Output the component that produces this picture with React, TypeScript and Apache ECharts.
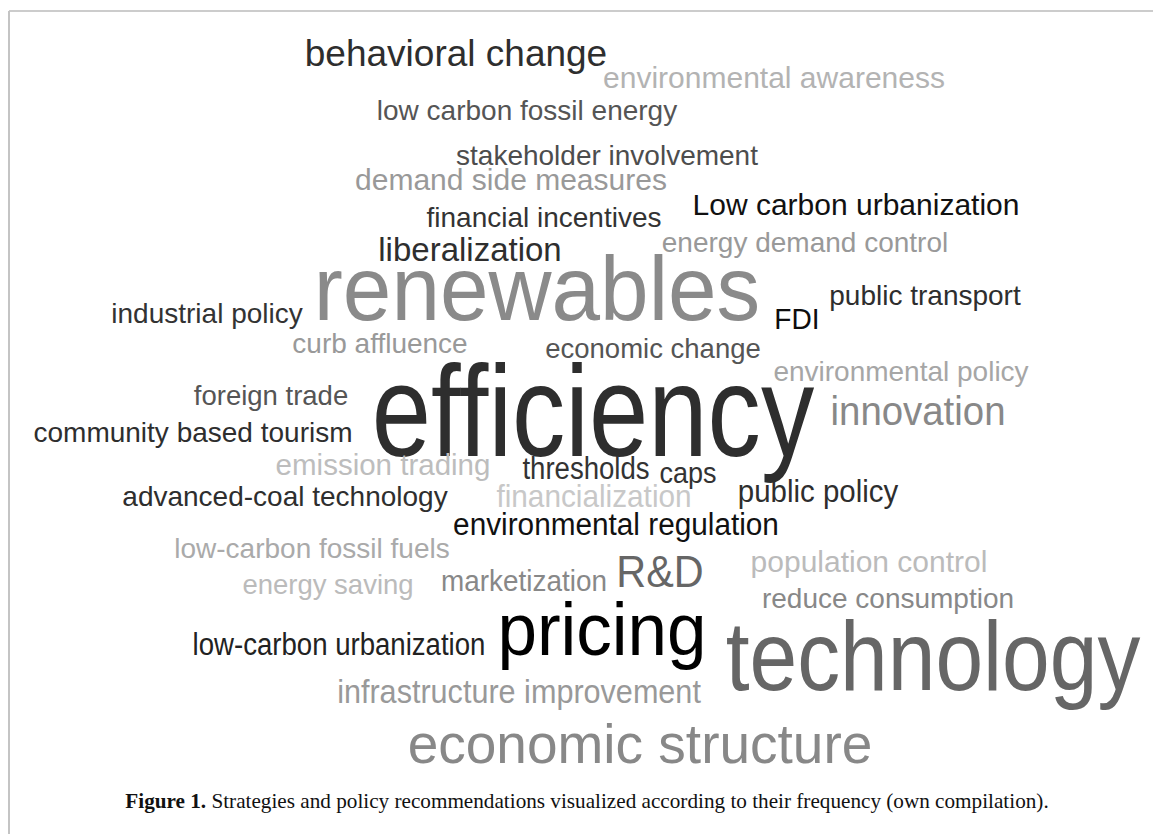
import React, { useEffect, useRef } from "react";
import * as echarts from "echarts";

// Words of the cloud
const words: string[] = [
  "behavioral change", "environmental awareness", "low carbon fossil energy", "stakeholder involvement",
  "demand side measures", "financial incentives", "Low carbon urbanization", "liberalization",
  "energy demand control", "renewables", "industrial policy", "FDI", "public transport",
  "curb affluence", "economic change", "environmental policy", "efficiency", "foreign trade",
  "innovation", "community based tourism", "emission trading", "thresholds", "caps",
  "advanced-coal technology", "financialization", "public policy", "environmental regulation",
  "low-carbon fossil fuels", "population control", "R&D", "marketization", "energy saving",
  "reduce consumption", "pricing", "low-carbon urbanization", "technology",
  "infrastructure improvement", "economic structure",
];

// Relative frequency (rendered as font size)
const frequency: number[] = [
  37, 30, 28, 28,
  30, 28, 30, 33,
  28, 90, 28, 29, 28,
  28, 27.5, 28, 130, 27.5,
  40, 28, 29.5, 31, 30,
  28, 32, 31, 31,
  28, 30, 44, 30, 27.5,
  28, 74, 31, 98,
  34, 55,
];

// Layout of the cloud (word centre x, baseline y)
const posX: number[] = [
  456, 774, 527, 607,
  511, 544, 856, 470,
  805, 537, 207, 797, 925,
  380, 653, 901, 593, 271,
  918, 193, 383, 586, 688,
  285, 594, 818, 616,
  312, 869, 660, 524, 328,
  888, 602, 339, 933,
  519, 640,
];
const posY: number[] = [
  66, 88, 120, 165,
  190, 227, 215, 261,
  252, 320, 323, 329, 305,
  353, 358, 381, 456, 405,
  425, 442, 475, 479, 483,
  506, 507, 502, 535,
  558, 572, 587, 591, 594,
  608, 655, 655, 690,
  703, 763,
];

// Horizontal stretch of each word as rendered
const stretch: number[] = [
  1, 1, 1, 1,
  1, 1, 1, 1,
  1, 0.97, 1, 0.97, 1,
  1, 1, 1, 0.82, 1,
  0.96, 1, 1, 0.89, 0.9,
  1, 0.93, 0.95, 0.96,
  1, 1, 0.94, 0.93, 1,
  1, 0.96, 0.89, 0.875,
  0.9, 1,
];

const colors: string[] = [
  "#2e2e2e", "#b3b3b3", "#555555", "#4d4d4d",
  "#999999", "#333333", "#111111", "#2e2e2e",
  "#999999", "#8a8a8a", "#333333", "#0d0d0d", "#2e2e2e",
  "#999999", "#555555", "#a6a6a6", "#2e2e2e", "#555555",
  "#888888", "#2e2e2e", "#bdbdbd", "#333333", "#333333",
  "#2e2e2e", "#c8c8c8", "#2e2e2e", "#111111",
  "#aaaaaa", "#bbbbbb", "#666666", "#888888", "#bbbbbb",
  "#888888", "#000000", "#222222", "#666666",
  "#999999", "#888888",
];

const captionBold = "Figure 1.";
const captionText =
  " Strategies and policy recommendations visualized according to their frequency (own compilation).";

const W = 1153;
const H = 834;

export default function App() {
  const ref = useRef<HTMLDivElement>(null);

  useEffect(() => {
    if (!ref.current) return;
    const chart = echarts.init(ref.current, undefined, { renderer: "svg" });
    const data = words.map((w, i) => ({ name: w, value: [posX[i], posY[i], frequency[i]] }));

    chart.setOption({
      animation: false,
      backgroundColor: "#ffffff",
      grid: { left: 0, right: 0, top: 0, bottom: 0 },
      xAxis: { type: "value", min: 0, max: W, show: false },
      yAxis: { type: "value", min: 0, max: H, inverse: true, show: false },
      graphic: [
        {
          type: "line",
          shape: { x1: 9, y1: 11, x2: W, y2: 11 },
          style: { stroke: "#9a9a9a", lineWidth: 1.2 },
          silent: true,
        },
        {
          type: "line",
          shape: { x1: 9, y1: 11, x2: 9, y2: H },
          style: { stroke: "#c4c4c4", lineWidth: 2 },
          silent: true,
        },
        {
          type: "text",
          x: 587,
          y: 801,
          style: {
            text: "{b|" + captionBold + "}" + captionText,
            rich: {
              b: { fontWeight: "bold", fontFamily: "Liberation Serif", fontSize: 21.2, fill: "#111" },
            },
            fontFamily: "Liberation Serif",
            fontSize: 21.2,
            fill: "#111",
            align: "center",
            verticalAlign: "middle",
          },
          silent: true,
        },
      ],
      series: [
        {
          type: "custom",
          coordinateSystem: "cartesian2d",
          data,
          silent: true,
          renderItem: (params: any, api: any) => {
            const i = params.dataIndex;
            const fs = api.value(2) as number;
            const pt = api.coord([api.value(0), api.value(1)]);
            return {
              type: "text",
              x: pt[0],
              y: pt[1] - 0.3465 * fs,
              scaleX: stretch[i],
              style: {
                text: words[i],
                fontFamily: "Liberation Sans",
                fontSize: fs,
                fill: colors[i],
                align: "center",
                verticalAlign: "middle",
              },
            };
          },
        },
      ],
    });
    return () => chart.dispose();
  }, []);

  return (
    <div
      ref={ref}
      style={{ position: "fixed", left: 0, top: 0, width: W, height: H, background: "#fff" }}
    />
  );
}
